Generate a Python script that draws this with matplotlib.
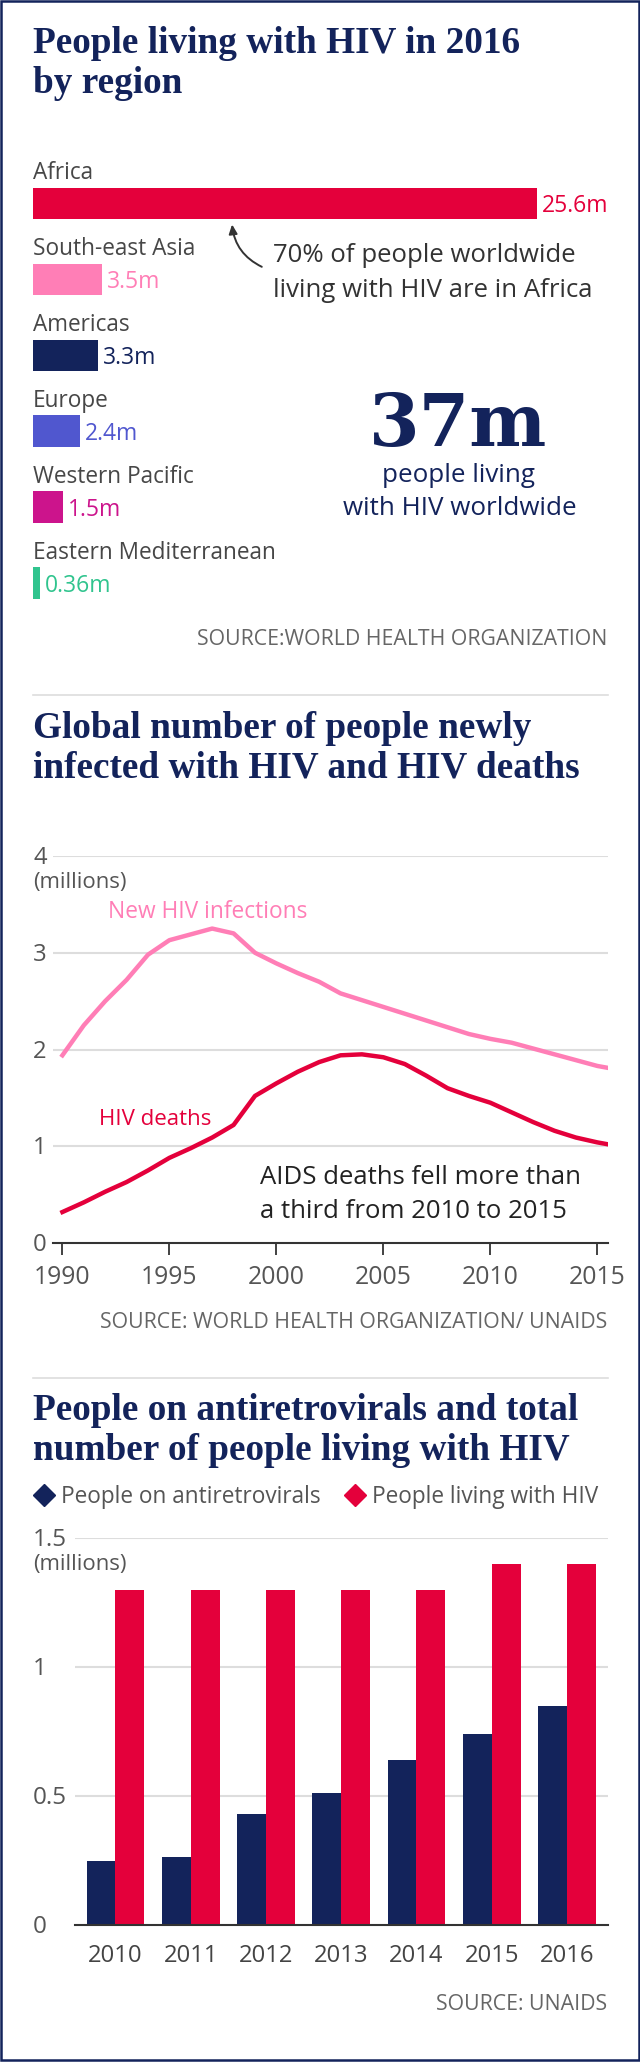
import matplotlib
matplotlib.use("Agg")
import matplotlib.pyplot as plt
import matplotlib.transforms as mtransforms
from matplotlib.lines import Line2D
from matplotlib.patches import Rectangle
import numpy as np

# ---------------- data ----------------
regions = ["Africa", "South-east Asia", "Americas", "Europe",
           "Western Pacific", "Eastern Mediterranean"]
region_values = [25.6, 3.5, 3.3, 2.4, 1.5, 0.36]
region_labels = ["25.6m", "3.5m", "3.3m", "2.4m", "1.5m", "0.36m"]

years = list(range(1990, 2017))
new_infections = [1.94, 2.25, 2.50, 2.72, 2.98, 3.13, 3.19, 3.25, 3.20, 3.00,
                  2.89, 2.79, 2.70, 2.58, 2.51, 2.44, 2.37, 2.30, 2.23, 2.16,
                  2.11, 2.07, 2.01, 1.95, 1.89, 1.83, 1.79]
hiv_deaths = [0.32, 0.42, 0.53, 0.63, 0.75, 0.88, 0.98, 1.09, 1.22, 1.52,
              1.65, 1.77, 1.87, 1.94, 1.95, 1.92, 1.85, 1.73, 1.60, 1.52,
              1.45, 1.35, 1.25, 1.16, 1.09, 1.04, 1.00]
line_ticks = [1990, 1995, 2000, 2005, 2010, 2015]

bar_years = ["2010", "2011", "2012", "2013", "2014", "2015", "2016"]
on_art = [0.25, 0.265, 0.43, 0.51, 0.64, 0.74, 0.85]
living_hiv = [1.3, 1.3, 1.3, 1.3, 1.3, 1.4, 1.4]

# ---------------- style ----------------
NAVY = "#13235b"
RED = "#e4003b"
PINK = "#ff7eb6"
BLUE = "#5057cf"
MAGENTA = "#cc148c"
GREEN = "#30c48e"
region_colors = [RED, PINK, NAVY, BLUE, MAGENTA, GREEN]
TXT = "#474747"
GRAY = "#666666"
GRID = "#dddddd"

plt.rcParams["font.family"] = ["Open Sans", "DejaVu Sans"]
SERIF = ["Liberation Serif", "DejaVu Serif"]

W, H = 640, 2068
fig = plt.figure(figsize=(W / 100, H / 100), dpi=100)


def fx(x):
    return x / W


def fy(y):
    return 1 - y / H


def rect(left, top, right, bottom):
    return [fx(left), fy(bottom), (right - left) / W, (bottom - top) / H]


def title(lines, baselines):
    for t, b in zip(lines, baselines):
        fig.text(fx(33), fy(b), t, family=SERIF, weight="bold", fontsize=26.8,
                 color=NAVY, va="baseline", ha="left")


def source(t, b):
    fig.text(fx(607), fy(b), t, fontsize=15.3, color=GRAY, va="baseline", ha="right")


def separator(y):
    fig.add_artist(Line2D([fx(33), fx(608)], [fy(y), fy(y)], color=GRID, lw=1.2,
                          transform=fig.transFigure))


# ---------------- panel 1 ----------------
title(["People living with HIV in 2016", "by region"], [53, 93])
ax1 = fig.add_axes(rect(33, 165.5, 608, 621))
ypos = np.arange(len(regions))
ax1.barh(ypos, region_values, height=0.415, color=region_colors)
ax1.set_xlim(0, 29.21)
ax1.set_ylim(5.5, -0.5)
ax1.axis("off")
for i, (name, v, lab, c) in enumerate(zip(regions, region_values, region_labels, region_colors)):
    ax1.annotate(name, xy=(0, i), xytext=(0, 24), textcoords="offset pixels",
                 va="baseline", ha="left", fontsize=16.3, color=TXT)
    ax1.annotate(lab, xy=(v, i), xytext=(5, -8.5), textcoords="offset pixels",
                 va="baseline", ha="left", fontsize=16.5, color=c)

ax1.annotate("", xy=(10.1, 0.24), xytext=(11.75, 0.85),
             arrowprops=dict(arrowstyle="-|>,head_length=0.55,head_width=0.25",
                             connectionstyle="arc3,rad=-0.3", color="#333333", lw=1.4))
fig.text(fx(273), fy(262), "70% of people worldwide", fontsize=18.5, color="#333333",
         va="baseline", ha="left")
fig.text(fx(273), fy(297), "living with HIV are in Africa", fontsize=18.5, color="#333333",
         va="baseline", ha="left")

fig.text(fx(458), fy(446), "37m", family=["DejaVu Serif"], weight="bold", fontsize=52.5,
         color=NAVY, ha="center", va="baseline")
fig.text(fx(458), fy(482), "people living", fontsize=18.7, color=NAVY, ha="center", va="baseline")
fig.text(fx(460), fy(515), "with HIV worldwide", fontsize=18.7, color=NAVY, ha="center", va="baseline")

source("SOURCE:WORLD HEALTH ORGANIZATION", 645)
separator(695)

# ---------------- panel 2 ----------------
title(["Global number of people newly", "infected with HIV and HIV deaths"], [738, 777])
ax2 = fig.add_axes(rect(53, 856, 608, 1243))
ax2.plot(years, new_infections, color=PINK, lw=3.2, solid_joinstyle="round")
ax2.plot(years, hiv_deaths, color=RED, lw=3.2, solid_joinstyle="round")
ax2.set_xlim(1989.56, 2015.5)
ax2.set_ylim(0, 4)
for s in ["top", "right", "left"]:
    ax2.spines[s].set_visible(False)
ax2.spines["bottom"].set_color("#333333")
ax2.spines["bottom"].set_linewidth(1.5)
ax2.set_yticks([1, 2, 3, 4])
ax2.tick_params(axis="y", left=False, labelleft=False)
ax2.grid(axis="y", color=GRID, lw=1.5)
ax2.set_axisbelow(True)
ax2.set_xticks(line_ticks)
ax2.set_xticklabels([str(t) for t in line_ticks])
ax2.tick_params(axis="x", length=8.6, width=1.3, color="#333333", pad=7,
                labelsize=17.8, labelcolor="#555555")
tr2 = mtransforms.blended_transform_factory(fig.transFigure, ax2.transData)
for v in [0, 1, 2, 3, 4]:
    ax2.annotate(str(v), xy=(fx(33), v), xycoords=tr2, xytext=(0, -8),
                 textcoords="offset pixels", va="baseline", ha="left",
                 fontsize=17.2, color="#555555")
ax2.annotate("(millions)", xy=(fx(33), 4), xycoords=tr2, xytext=(0, -32),
             textcoords="offset pixels", va="baseline", ha="left", fontsize=15.9, color="#555555")
fig.text(fx(108), fy(918), "New HIV infections", fontsize=16.4, color=PINK, va="baseline")
fig.text(fx(99), fy(1125), "HIV deaths", fontsize=16.0, color=RED, va="baseline")
fig.text(fx(260), fy(1184), "AIDS deaths fell more than", fontsize=18.5, color="#222222", va="baseline")
fig.text(fx(260), fy(1218), "a third from 2010 to 2015", fontsize=18.5, color="#222222", va="baseline")
source("SOURCE: WORLD HEALTH ORGANIZATION/ UNAIDS", 1328)
separator(1378)

# ---------------- panel 3 ----------------
title(["People on antiretrovirals and total", "number of people living with HIV"], [1420, 1460])
handles = [Line2D([], [], ls="none", marker="D", markersize=11.5, color=NAVY),
           Line2D([], [], ls="none", marker="D", markersize=11.5, color=RED)]
fig.legend(handles, ["People on antiretrovirals", "People living with HIV"],
           loc="center left", bbox_to_anchor=(fx(33), fy(1497)), ncol=2, frameon=False,
           handlelength=1.0, handletextpad=0.25, columnspacing=1.0, borderpad=0,
           borderaxespad=0, fontsize=16.3, labelcolor="#555555")

ax3 = fig.add_axes(rect(75, 1538, 608, 1925))
x = np.arange(len(bar_years))
w = 0.385
ax3.bar(x - w / 2, on_art, w, color=NAVY)
ax3.bar(x + w / 2, living_hiv, w, color=RED)
ax3.set_xlim(-0.538, 6.545)
ax3.set_ylim(0, 1.5)
for s in ["top", "right", "left"]:
    ax3.spines[s].set_visible(False)
ax3.spines["bottom"].set_color("#333333")
ax3.spines["bottom"].set_linewidth(1.5)
ax3.set_yticks([0.5, 1, 1.5])
ax3.tick_params(axis="y", left=False, labelleft=False)
ax3.grid(axis="y", color=GRID, lw=1.5)
ax3.set_axisbelow(True)
ax3.set_xticks(x)
ax3.set_xticklabels(bar_years)
ax3.tick_params(axis="x", length=0, pad=14, labelsize=17.2, labelcolor="#444444")
tr3 = mtransforms.blended_transform_factory(fig.transFigure, ax3.transData)
for v, s in zip([0, 0.5, 1, 1.5], ["0", "0.5", "1", "1.5"]):
    ax3.annotate(s, xy=(fx(33), v), xycoords=tr3, xytext=(0, -8),
                 textcoords="offset pixels", va="baseline", ha="left",
                 fontsize=17.5, color="#555555")
ax3.annotate("(millions)", xy=(fx(33), 1.5), xycoords=tr3, xytext=(0, -32),
             textcoords="offset pixels", va="baseline", ha="left", fontsize=15.9, color="#555555")
source("SOURCE: UNAIDS", 2010)

# ---------------- frame ----------------
fig.add_artist(Rectangle((fx(1.25), fy(2059.5)), 637.5 / W, 2058.25 / H, fill=False,
                         edgecolor=NAVY, lw=1.8, transform=fig.transFigure))

fig.savefig("out.png", dpi=100, facecolor="white")
